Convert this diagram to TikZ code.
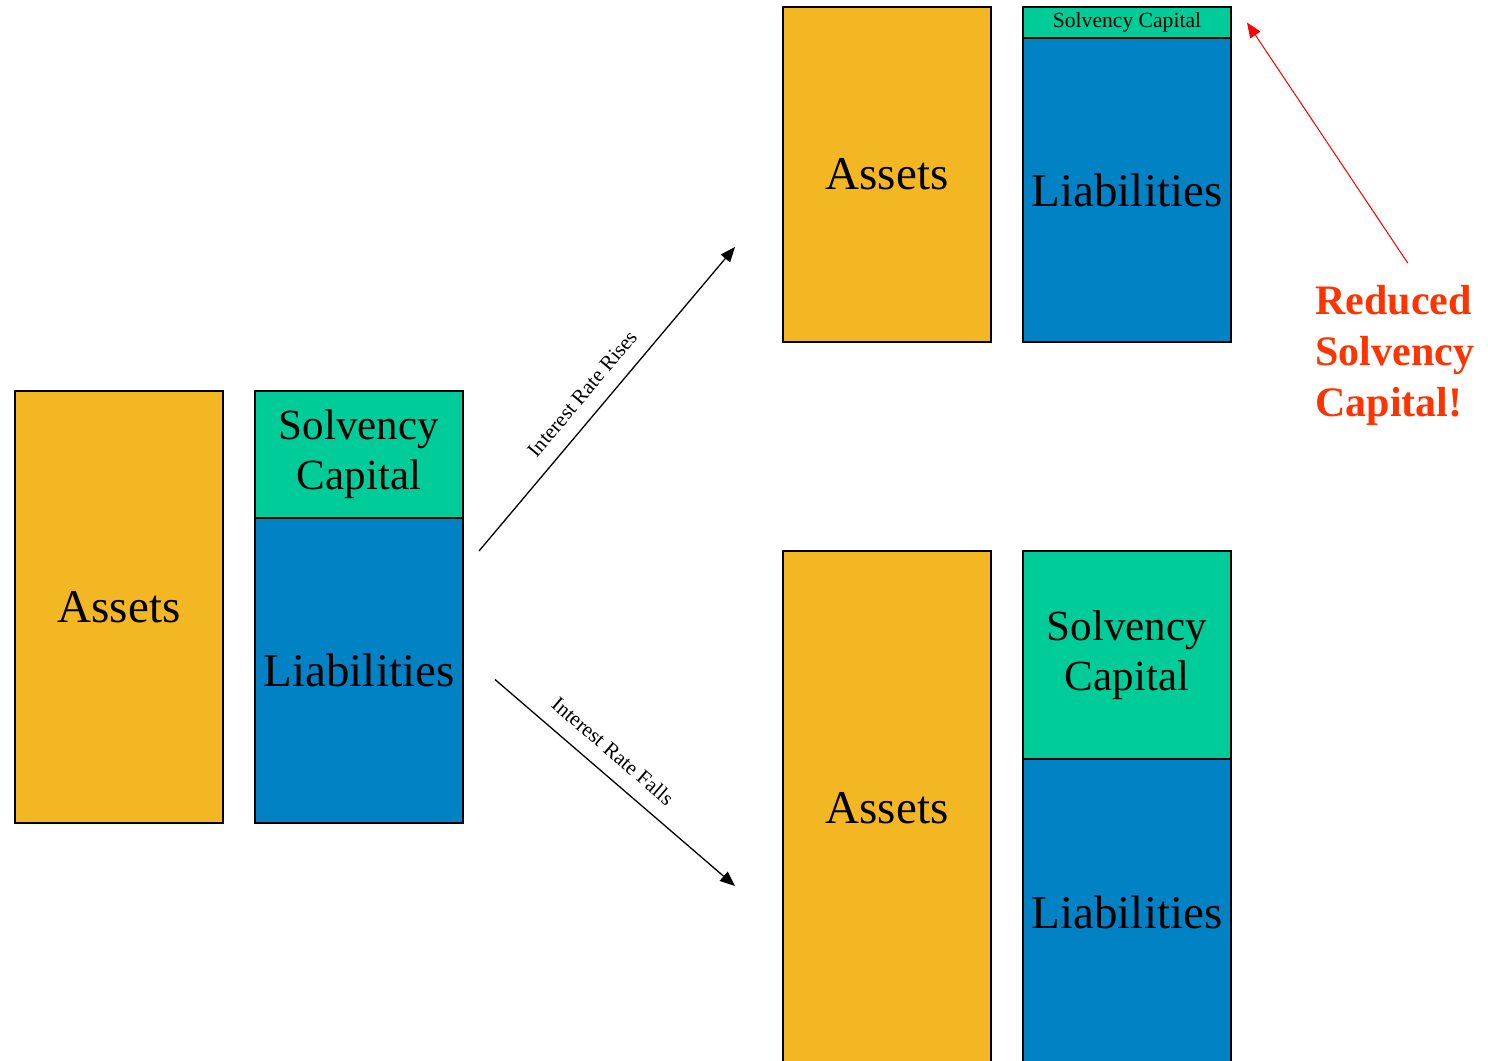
\documentclass[tikz,border=0pt]{standalone}
\usepackage{fontspec}
\setmainfont{Liberation Serif}
\usetikzlibrary{arrows.meta,positioning}
\definecolor{gold}{HTML}{F3B723}
\definecolor{blu}{HTML}{0082C4}
\definecolor{grn}{HTML}{00CC99}
\definecolor{warn}{HTML}{FF3300}
\tikzset{
  bal/.style={draw=black,line width=0.7pt,minimum width=104pt,inner sep=0pt,outer sep=0pt,align=center,font=\fontsize{23.5}{25}\selectfont},
  abox/.style={bal,fill=gold},
  sbox/.style={bal,fill=grn,font=\fontsize{21.5}{25}\selectfont},
  lbox/.style={bal,fill=blu},
  ar/.style={-{Triangle[length=7.5pt,width=6pt]},line width=0.65pt},
  rar/.style={-{Triangle[length=7.5pt,width=6pt]},line width=0.5pt,draw=red,fill=red},
  lab/.style={font=\fontsize{10.5}{12}\selectfont,sloped,above=4pt},
}
\begin{document}
\begin{tikzpicture}[x=0.5pt,y=-0.5pt]
\useasboundingbox (0,0) rectangle (1488,1060);
\clip (0,0) rectangle (1488,1060);
% today
\node[abox,minimum height=216pt,anchor=north west] (as0) at (15,391) {Assets};
\node[sbox,minimum height=63.5pt,right=16pt of as0.north east,anchor=north west] (sc0) {Solvency\\Capital};
\node[lbox,minimum height=152.5pt,below=0pt of sc0] (li0) {Liabilities};
% rate up
\node[abox,minimum height=167.5pt,anchor=north west] (as1) at (783,7) {Assets};
\node[sbox,minimum height=15.5pt,right=16pt of as1.north east,anchor=north west,font=\fontsize{10.8}{12}\selectfont] (sc1) {Solvency Capital\strut};
\node[lbox,minimum height=152pt,below=0pt of sc1] (li1) {Liabilities};
% rate down
\node[abox,minimum height=257pt,anchor=north west] (as2) at (783,551) {Assets};
\node[sbox,minimum height=104pt,right=16pt of as2.north east,anchor=north west] (sc2) {Solvency\\Capital};
\node[lbox,minimum height=153pt,below=0pt of sc2] (li2) {Liabilities};
\draw[ar] ([shift={(8pt,-16.5pt)}]li0.north east) -- node[lab,pos=0.47] {Interest Rate Rises} ([shift={(-24pt,47.5pt)}]as1.south west);
\draw[ar] ([shift={(16pt,-4.5pt)}]li0.east) -- node[lab,pos=0.43] {Interest Rate Falls} ([shift={(-24pt,-39pt)}]as2.west);
% warning
\node[font=\fontsize{21}{25.5}\selectfont\bfseries,text=warn,align=left,inner sep=0pt,anchor=north west] (note) at (1315,285) {Reduced\\Solvency\\Capital!};
\draw[rar] ([shift={(6.5pt,11pt)}]note.north) -- ([xshift=8pt]sc1.east);
\end{tikzpicture}
\end{document}
